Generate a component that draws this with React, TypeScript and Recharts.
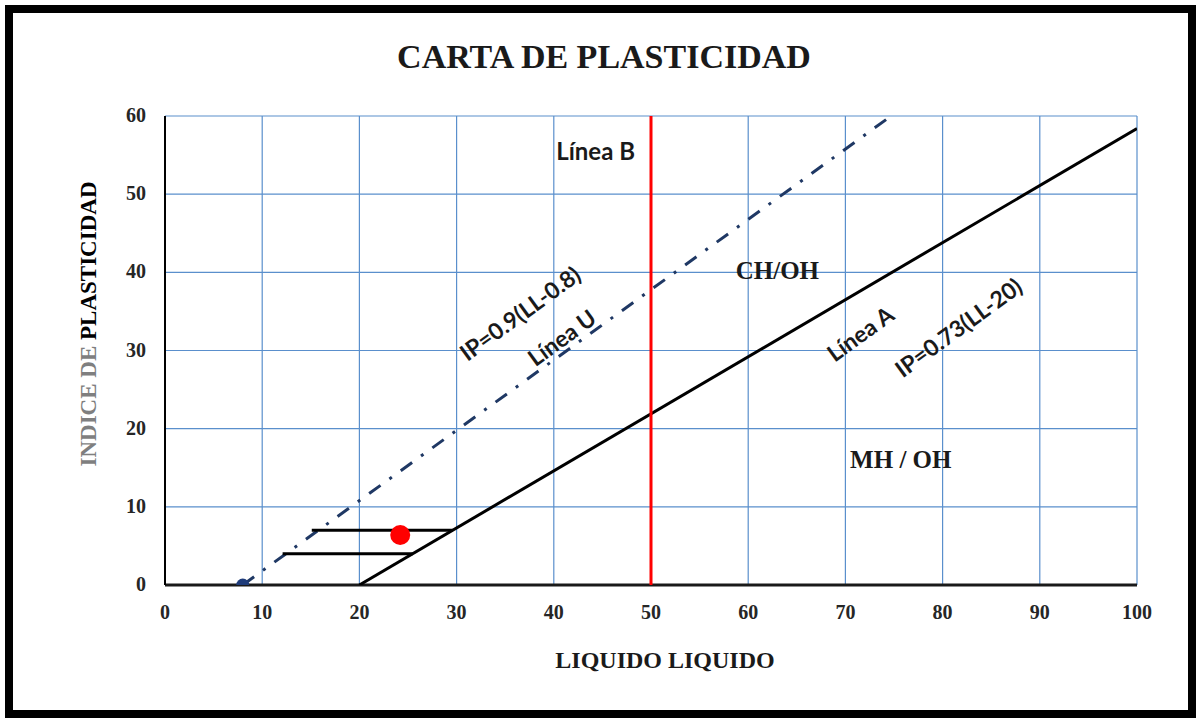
import React from 'react';
import { ScatterChart, XAxis, YAxis, CartesianGrid, Scatter } from 'recharts';

// ---- data ----
const xTicks = [0, 10, 20, 30, 40, 50, 60, 70, 80, 90, 100];
const yTicks = [0, 10, 20, 30, 40, 50, 60];

// Línea U: IP = 0.9 (LL - 8)
const lineU = [
  { x: 8, y: 0 },
  { x: 74.7, y: 60 },
];
// Línea A: IP = 0.73 (LL - 20)
const lineA = [
  { x: 20, y: 0 },
  { x: 100, y: 58.4 },
];
// Línea B: LL = 50
const lineB = [
  { x: 50, y: 0 },
  { x: 50, y: 60 },
];
// CL-ML zone limits
const zoneUpper = [
  { x: 15.1, y: 7 },
  { x: 29.6, y: 7 },
];
const zoneLower = [
  { x: 12.1, y: 4 },
  { x: 25.5, y: 4 },
];
const sample = [{ x: 24.2, y: 6.4 }];
const uOrigin = [{ x: 8, y: 0 }];

const annotations = [
  { x: 44.3, y: 55.6, text: 'Línea B', kind: 'name' },
  { x: 63.0, y: 40.2, text: 'CH/OH', kind: 'zone' },
  { x: 75.7, y: 16.1, text: 'MH / OH', kind: 'zone' },
  { x: 36.5, y: 34.8, text: 'IP=0.9(LL-0.8)', kind: 'slanted' },
  { x: 40.8, y: 31.7, text: 'Línea U', kind: 'slanted' },
  { x: 71.5, y: 32.2, text: 'Línea A', kind: 'slanted' },
  { x: 81.6, y: 33.0, text: 'IP=0.73(LL-20)', kind: 'slanted' },
];

// ---- styles ----
const SERIF = "'Liberation Serif', 'Times New Roman', serif";
const SANS = "Lato, 'Open Sans', sans-serif";
const annoStyle: Record<string, { family: string; size: number; rotate: number }> = {
  name: { family: SANS, size: 24, rotate: 0 },
  zone: { family: SERIF, size: 25, rotate: 0 },
  slanted: { family: SANS, size: 23, rotate: -36 },
};

const XTick = (props: any) => {
  const { x, y, payload } = props;
  return (
    <text x={x} y={y + 34} textAnchor="middle" fontFamily={SERIF} fontSize={20} fontWeight="bold" fill="#262626">
      {payload.value}
    </text>
  );
};

const YTick = (props: any) => {
  const { x, y, payload } = props;
  return (
    <text x={x - 19} y={y + 6} textAnchor="end" fontFamily={SERIF} fontSize={20} fontWeight="bold" fill="#262626">
      {payload.value}
    </text>
  );
};

const Anno = (props: any) => {
  const { cx, cy, payload } = props;
  const s = annoStyle[payload.kind];
  return (
    <text
      x={cx}
      y={cy}
      textAnchor="middle"
      dominantBaseline="central"
      fontFamily={s.family}
      fontSize={s.size}
      fontWeight="bold"
      fill="#1a1a1a"
      transform={s.rotate ? `rotate(${s.rotate} ${cx} ${cy})` : undefined}
    >
      {payload.text}
    </text>
  );
};

const NoShape = () => <g />;

const Dot = (color: string, r: number) => (props: any) => (
  <circle cx={props.cx} cy={props.cy} r={r} fill={color} />
);

export default function App() {
  return (
    <div style={{ position: 'absolute', left: 0, top: 0, width: 1198, height: 720, background: '#fff' }}>
      <ScatterChart
        width={1198}
        height={720}
        margin={{ top: 116, right: 61, bottom: 95, left: 105 }}
      >
        <CartesianGrid stroke="#5a8fcc" strokeWidth={1.2} />
        <XAxis
          type="number"
          dataKey="x"
          domain={[0, 100]}
          ticks={xTicks}
          interval={0}
          tickLine={false}
          tickSize={0}
          tickMargin={0}
          height={40}
          axisLine={{ stroke: '#1a1a1a', strokeWidth: 3 }}
          tick={<XTick />}
          allowDataOverflow
        />
        <YAxis
          type="number"
          dataKey="y"
          domain={[0, 60]}
          ticks={yTicks}
          interval={0}
          tickLine={false}
          tickSize={0}
          tickMargin={0}
          width={60}
          axisLine={{ stroke: '#000', strokeWidth: 2 }}
          tick={<YTick />}
          allowDataOverflow
        />
        <Scatter
          data={lineU}
          line={{ stroke: '#1f3864', strokeWidth: 3, strokeDasharray: '14 11 3 11' }}
          shape={NoShape}
          isAnimationActive={false}
        />
        <Scatter data={lineA} line={{ stroke: '#000', strokeWidth: 3 }} shape={NoShape} isAnimationActive={false} />
        <Scatter data={lineB} line={{ stroke: '#ff0000', strokeWidth: 3 }} shape={NoShape} isAnimationActive={false} />
        <Scatter data={zoneUpper} line={{ stroke: '#000', strokeWidth: 3 }} shape={NoShape} isAnimationActive={false} />
        <Scatter data={zoneLower} line={{ stroke: '#000', strokeWidth: 3 }} shape={NoShape} isAnimationActive={false} />
        <Scatter data={uOrigin} shape={Dot('#1f3c7a', 6.5)} isAnimationActive={false} />
        <Scatter data={sample} shape={Dot('#ff0000', 10)} isAnimationActive={false} />
        <Scatter data={annotations} shape={Anno} isAnimationActive={false} />
      </ScatterChart>
      <svg
        width={1198}
        height={720}
        style={{ position: 'absolute', left: 0, top: 0, pointerEvents: 'none' }}
      >
        <text x={604} y={68} textAnchor="middle" fontFamily={SERIF} fontSize={34} fontWeight="bold" fill="#1a1a1a">
          CARTA DE PLASTICIDAD
        </text>
        <text x={665} y={668} textAnchor="middle" fontFamily={SERIF} fontSize={24} fontWeight="bold" fill="#1a1a1a">
          LIQUIDO LIQUIDO
        </text>
        <text
          x={96}
          y={324}
          textAnchor="middle"
          fontFamily={SERIF}
          fontSize={23}
          fontWeight="bold"
          transform="rotate(-90 96 324)"
        >
          <tspan fill="#7f7f7f">INDICE DE </tspan>
          <tspan fill="#000">PLASTICIDAD</tspan>
        </text>
      </svg>
      <div
        style={{
          position: 'absolute',
          left: 5,
          top: 5,
          width: 1191,
          height: 713,
          border: '8px solid #000',
          boxSizing: 'border-box',
          pointerEvents: 'none',
        }}
      />
    </div>
  );
}
